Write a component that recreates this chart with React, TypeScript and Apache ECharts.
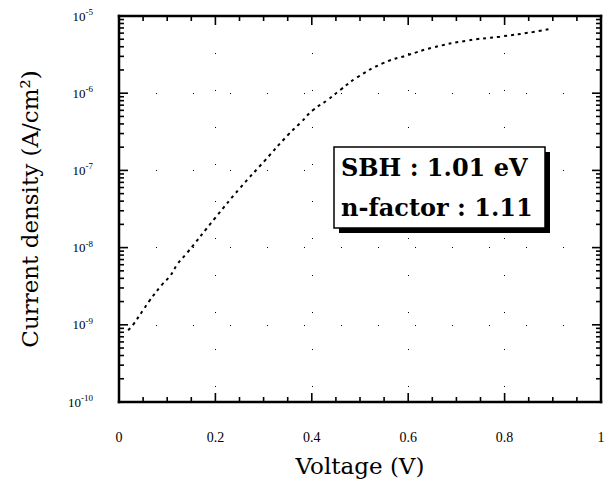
import React, { useEffect, useRef } from "react";
import * as echarts from "echarts";

const voltage = [0.019, 0.029, 0.05, 0.062, 0.089, 0.106, 0.122, 0.141, 0.199, 0.251, 0.303, 0.351, 0.376, 0.402, 0.432, 0.459, 0.494, 0.548, 0.598, 0.651, 0.722, 0.79, 0.859, 0.894];
const currentDensity = [8.5e-10, 1.0e-9, 1.55e-9, 2.0e-9, 3.3e-9, 4.3e-9, 6.2e-9, 8.5e-9, 2.4e-8, 5.9e-8, 1.35e-7, 2.9e-7, 4.1e-7, 6.0e-7, 8.1e-7, 1.1e-6, 1.6e-6, 2.45e-6, 3.1e-6, 3.9e-6, 4.8e-6, 5.4e-6, 6.2e-6, 6.8e-6];
const yExponents = [-10, -9, -8, -7, -6, -5];
const xTickValues = [0, 0.05, 0.1, 0.15, 0.2, 0.25, 0.3, 0.35, 0.4, 0.45, 0.5, 0.55, 0.6, 0.65, 0.7, 0.75, 0.8, 0.85, 0.9, 0.95, 1];
const yMantissas = [1, 2, 3, 4, 5, 6, 7, 8, 9];
const annotationLines = ["SBH : 1.01 eV", "n-factor : 1.11"];

const X_MIN = 0;
const X_MAX = 1;
const Y_MIN = 1e-10;
const Y_MAX = 1e-5;

export default function App() {
  const ref = useRef<HTMLDivElement>(null);
  useEffect(() => {
    if (!ref.current) return;
    const chart = echarts.init(ref.current, undefined, { renderer: "svg" });
    const data = voltage.map((v, i) => [v, currentDensity[i]]);
    const yTickValues: number[] = [];
    yExponents.forEach((e) => {
      yMantissas.forEach((m) => {
        const v = m * Math.pow(10, e);
        if (v <= Y_MAX * 1.0001) yTickValues.push(v);
      });
    });
    chart.setOption({
      animation: false,
      grid: { left: 119, right: 9, top: 16, bottom: 89 },
      xAxis: {
        type: "value",
        min: X_MIN,
        max: X_MAX,
        interval: 0.2,
        name: "Voltage (V)",
        nameLocation: "middle",
        nameGap: 52,
        nameTextStyle: { fontFamily: "DejaVu Serif", fontSize: 23, color: "#000" },
        axisLine: { show: false },
        axisTick: { show: false },
        splitLine: { show: true, lineStyle: { color: "#000", type: [1, 36] } },
        axisLabel: { fontFamily: "Liberation Serif", fontSize: 14, color: "#000", margin: 28 },
      },
      yAxis: {
        type: "log",
        logBase: 10,
        min: Y_MIN,
        max: Y_MAX,
        name: "Current density (A/cm²)",
        nameLocation: "middle",
        nameGap: 78,
        nameTextStyle: { fontFamily: "DejaVu Serif", fontSize: 23, color: "#000" },
        axisLine: { show: false },
        axisTick: { show: false },
        splitLine: { show: true, lineStyle: { color: "#000", type: [1, 36] } },
        axisLabel: {
          margin: 26,
          color: "#000",
          formatter: (v: number) => {
            const e = Math.round(Math.log10(v));
            return yExponents.includes(e) ? `{b|10}{s|${e}}` : "";
          },
          rich: {
            b: { fontFamily: "Liberation Serif", fontSize: 13, color: "#000" },
            s: { fontFamily: "Liberation Serif", fontSize: 9, color: "#000", verticalAlign: "top", padding: [0, 0, 8, 0] },
          },
        },
      },
      series: [
        {
          type: "line",
          data,
          showSymbol: false,
          smooth: true,
          z: 3,
          lineStyle: { color: "#000", width: 2, type: [3, 4] },
        },
      ],
    });

    const toPx = (x: number, y: number) => chart.convertToPixel({ gridIndex: 0 }, [x, y]) as number[];
    const fillBlack = { fill: "#000" };
    const frameEls: any[] = [];
    const tl = toPx(X_MIN, Y_MAX);
    const br = toPx(X_MAX, Y_MIN);
    if (tl && br) {
      const fw = 2.5;
      const w = br[0] - tl[0];
      const h = br[1] - tl[1];
      frameEls.push({ type: "rect", z: 10, shape: { x: tl[0] - fw / 2, y: tl[1] - fw / 2, width: w + fw, height: fw }, style: fillBlack });
      frameEls.push({ type: "rect", z: 10, shape: { x: tl[0] - fw / 2, y: br[1] - fw / 2, width: w + fw, height: fw }, style: fillBlack });
      frameEls.push({ type: "rect", z: 10, shape: { x: tl[0] - fw / 2, y: tl[1] - fw / 2, width: fw, height: h + fw }, style: fillBlack });
      frameEls.push({ type: "rect", z: 10, shape: { x: br[0] - fw / 2, y: tl[1] - fw / 2, width: fw, height: h + fw }, style: fillBlack });
      const tw = 1.6;
      xTickValues.forEach((x) => {
        const major = Math.abs(x / 0.2 - Math.round(x / 0.2)) < 1e-6;
        const len = major ? 9 : 5;
        const b = toPx(x, Y_MIN);
        const t = toPx(x, Y_MAX);
        frameEls.push({ type: "rect", z: 10, shape: { x: b[0] - tw / 2, y: b[1] - len, width: tw, height: len }, style: fillBlack });
        frameEls.push({ type: "rect", z: 10, shape: { x: t[0] - tw / 2, y: t[1], width: tw, height: len }, style: fillBlack });
      });
      yTickValues.forEach((y) => {
        const lg = Math.log10(y);
        const major = Math.abs(lg - Math.round(lg)) < 1e-6;
        const len = major ? 9 : 5;
        const l = toPx(X_MIN, y);
        const r = toPx(X_MAX, y);
        frameEls.push({ type: "rect", z: 10, shape: { x: l[0], y: l[1] - tw / 2, width: len, height: tw }, style: fillBlack });
        frameEls.push({ type: "rect", z: 10, shape: { x: r[0] - len, y: r[1] - tw / 2, width: len, height: tw }, style: fillBlack });
      });
    }

    chart.setOption({
      graphic: [
        ...frameEls,
        { type: "rect", z: 11, shape: { x: 339, y: 152, width: 211, height: 81 }, style: { fill: "#000" } },
        { type: "rect", z: 12, shape: { x: 334, y: 147, width: 211, height: 81 }, style: { fill: "#fff", stroke: "#000", lineWidth: 1.5 } },
        {
          type: "text",
          z: 13,
          x: 341,
          y: 167,
          style: { text: annotationLines[0], font: "bold 24px 'DejaVu Serif'", fill: "#000", textVerticalAlign: "middle" },
        },
        {
          type: "text",
          z: 13,
          x: 341,
          y: 207,
          style: { text: annotationLines[1], font: "bold 24px 'DejaVu Serif'", fill: "#000", textVerticalAlign: "middle" },
        },
      ],
    });
    return () => chart.dispose();
  }, []);
  return <div ref={ref} style={{ position: "absolute", left: 0, top: 0, width: 610, height: 491 }} />;
}
